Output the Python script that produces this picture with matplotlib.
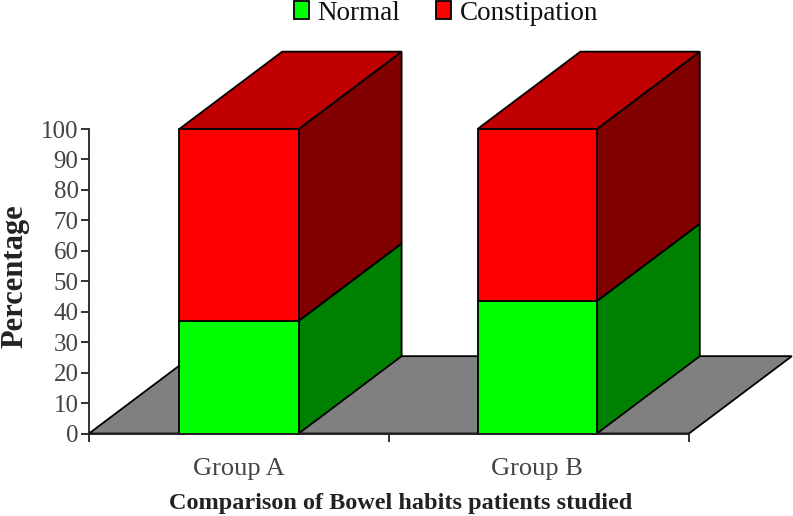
import matplotlib
matplotlib.use("Agg")
import matplotlib.pyplot as plt
from matplotlib.patches import Polygon

groups = ["Group A", "Group B"]
normal = [37, 43.5]
constipation = [63, 56.5]
yticks = list(range(0, 101, 10))

plt.rcParams['font.family'] = ['Liberation Serif', 'DejaVu Serif']

# depth of the fake 3d box, in data units
DX = 0.343
DY = 25.4
W = 0.398

fig = plt.figure(figsize=(7.93, 5.16), dpi=100)
ax = fig.add_axes([89 / 793, 1 - 433.5 / 516, 600 / 793, 304.5 / 516])
ax.set_xlim(0, 2)
ax.set_ylim(0, 100)


def poly(pts, color, z):
    ax.add_patch(Polygon(pts, closed=True, facecolor=color, edgecolor="black",
                         linewidth=1.3, clip_on=False, zorder=z))


# floor
poly([(0, 0), (DX, DY), (2 + DX, DY), (2, 0)], "#808080", 1)

centers = [0.5, 1.494]

for c, n, k in zip(centers, normal, constipation):
    r = c + W / 2
    l = c - W / 2
    # side faces
    poly([(r, 0), (r + DX, DY), (r + DX, n + DY), (r, n)], "#008000", 2)
    poly([(r, n), (r + DX, n + DY), (r + DX, n + k + DY), (r, n + k)], "#800000", 2)
    # top
    poly([(l, n + k), (l + DX, n + k + DY), (r + DX, n + k + DY), (r, n + k)], "#C00000", 2)

b1 = ax.bar(centers, normal, W, color="#00FF00", edgecolor="black", linewidth=1.3,
            zorder=3, clip_on=False, label="Normal")
b2 = ax.bar(centers, constipation, W, bottom=normal, color="#FF0000", edgecolor="black",
            linewidth=1.3, zorder=3, clip_on=False, label="Constipation")

for s in ["top", "right"]:
    ax.spines[s].set_visible(False)
for s in ["left", "bottom"]:
    ax.spines[s].set_linewidth(1.3)
    ax.spines[s].set_color("#222222")
    ax.spines[s].set_zorder(4)

ax.set_yticks(yticks)
ax.set_xticks([0, 1, 2])
ax.set_xticklabels([])
ax.set_xticks(centers, minor=True)
ax.set_xticklabels(groups, minor=True, fontsize=19, color="#444444")
ax.tick_params(axis="x", which="major", length=6, width=1.3, color="#222222")
ax.tick_params(axis="x", which="minor", length=0, pad=18)
ax.tick_params(axis="y", length=6, width=1.3, color="#222222", labelsize=18,
               labelcolor="#444444", pad=1.5)

ax.set_xlabel("Comparison of Bowel habits patients studied", fontsize=17.5,
              fontweight="bold", color="#222222")
ax.xaxis.set_label_coords(0.52, -0.195)
ax.set_ylabel("Percentage", fontsize=22, fontweight="bold", color="#222222")
ax.yaxis.set_label_coords(-0.099, 0.517)

ax.legend(handles=[b1, b2], ncol=2, frameon=False, loc="center",
          bbox_to_anchor=(446 / 793, 1 - 13 / 516), bbox_transform=fig.transFigure,
          fontsize=19.5, handlelength=0.55, handleheight=0.6, handletextpad=0.3,
          columnspacing=1.35, labelcolor="#111111", borderpad=0)

fig.savefig("out.png", dpi=100)
